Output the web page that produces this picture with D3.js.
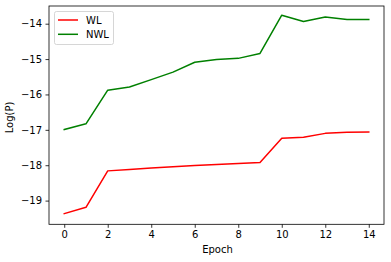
<!DOCTYPE html>
<html><head><meta charset="utf-8">
<script src="https://cdn.jsdelivr.net/npm/d3@7"></script>
<style>body{margin:0;background:#fff}svg{display:block}text{font-family:"DejaVu Sans",sans-serif}</style>
</head><body>
<script>
const epochs = [0,1,2,3,4,5,6,7,8,9,10,11,12,13,14];
const wl  = [-19.37,-19.19,-18.16,-18.12,-18.08,-18.04,-18.01,-17.98,-17.95,-17.92,-17.24,-17.21,-17.10,-17.07,-17.06];
const nwl = [-16.99,-16.83,-15.88,-15.79,-15.58,-15.37,-15.09,-15.01,-14.98,-14.84,-13.76,-13.94,-13.81,-13.88,-13.88];
const xTicks = [0,2,4,6,8,10,12,14];
const yTicks = [-19,-18,-17,-16,-15,-14];
const seriesNames = ["WL","NWL"];
const seriesColors = ["#ff0000","#008000"];

const W=391,H=262, L=49, R=384, T=6, B=224.3;
const svg=d3.select("body").append("svg").attr("width",W).attr("height",H);
const x=d3.scaleLinear().domain([-0.7,14.7]).range([L,R]);
const y=d3.scaleLinear().domain([-19.67,-13.5]).range([B,T]);
const fmt=d=>String(d).replace("-","\u2212");

const gx=svg.append("g").attr("transform",`translate(0,${B})`)
  .call(d3.axisBottom(x).tickValues(xTicks).tickSize(3.5).tickPadding(3.5).tickFormat(fmt));
const gy=svg.append("g").attr("transform",`translate(${L},0)`)
  .call(d3.axisLeft(y).tickValues(yTicks).tickSize(3.5).tickPadding(3.5).tickFormat(fmt));
[gx,gy].forEach(g=>{g.select(".domain").remove();
  g.selectAll("text").attr("font-size",10).attr("fill","#000").style("font-family","DejaVu Sans");
  g.selectAll("line").attr("stroke","#000").attr("stroke-width",0.8);});

const line=d3.line().x((d,i)=>x(epochs[i])).y(d=>y(d));
[wl,nwl].forEach((s,k)=>{
  svg.append("path").datum(s).attr("d",line).attr("fill","none")
    .attr("stroke",seriesColors[k]).attr("stroke-width",1.5).attr("stroke-linejoin","round").attr("stroke-linecap","square");
});

svg.append("rect").attr("x",L).attr("y",T).attr("width",R-L).attr("height",B-T)
  .attr("fill","none").attr("stroke","#000").attr("stroke-width",0.8);

// legend
const lg=svg.append("g");
lg.append("rect").attr("x",54.5).attr("y",11.5).attr("width",59).attr("height",33).attr("rx",2)
  .attr("fill","#fff").attr("fill-opacity",0.8).attr("stroke","#cccccc").attr("stroke-width",0.8);
seriesNames.forEach((n,k)=>{
  const yy=20+k*14.3;
  lg.append("line").attr("x1",58).attr("x2",78).attr("y1",yy).attr("y2",yy)
    .attr("stroke",seriesColors[k]).attr("stroke-width",1.5);
  lg.append("text").attr("x",86).attr("y",yy).attr("dy","0.35em").attr("font-size",10).text(n);
});

svg.append("text").attr("x",217.5).attr("y",253.3).attr("text-anchor","middle").attr("font-size",10).text("Epoch");
svg.append("text").attr("transform",`translate(13,117.5) rotate(-90)`).attr("text-anchor","middle").attr("font-size",10).text("Log(P)");
</script>
</body></html>
